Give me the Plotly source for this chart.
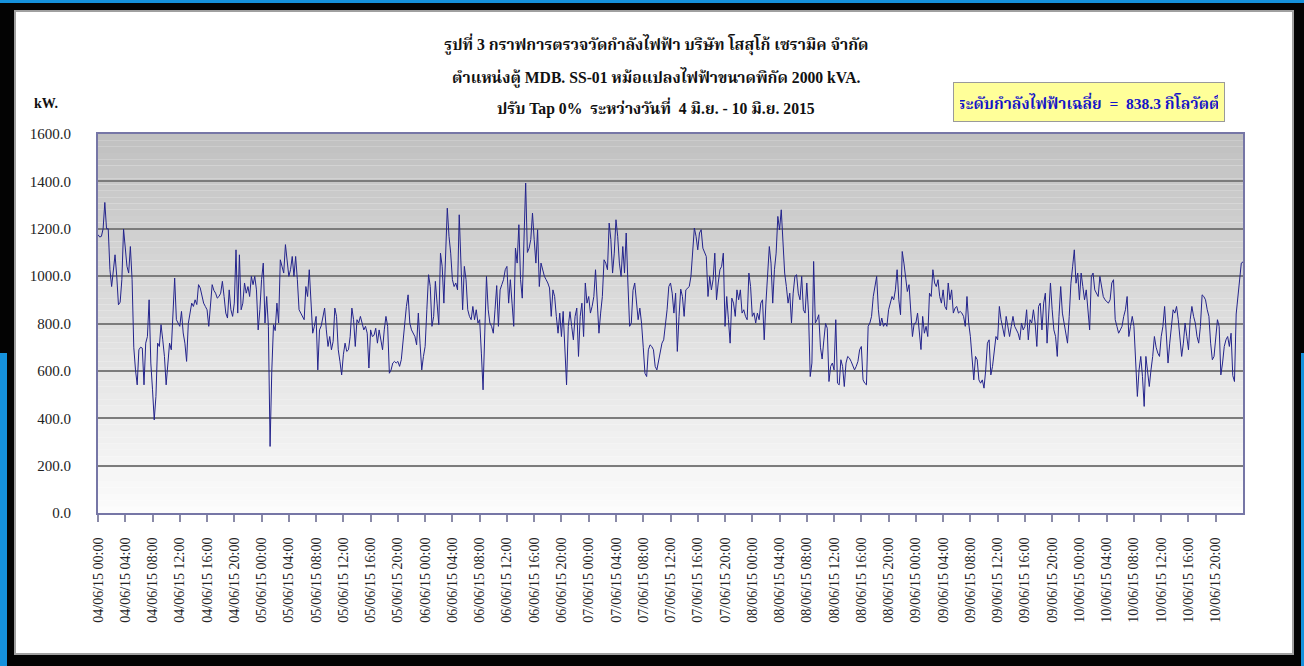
import pandas as pd
import plotly.graph_objects as go

# ---------------- data (15-minute steps) ----------------
start_time = "2015-06-04 00:00"
step = "15min"

# 04/06 00:00 -> 06/06 07:45
power_kw_part1 = [
    1175, 1165, 1168, 1200, 1311, 1200, 1200, 1027, 956, 1027,
    1090, 1000, 879, 890, 985, 1199, 1100, 1041, 1013, 1125,
    985, 700, 604, 541, 689, 700, 696, 541, 717, 745,
    900, 633, 520, 393, 492, 717, 703, 795, 731, 661,
    541, 633, 717, 689, 830, 992, 816, 800, 788, 851,
    760, 717, 640, 800, 850, 886, 872, 900, 880, 964,
    950, 921, 886, 872, 858, 788, 872, 964, 940, 928,
    907, 914, 928, 978, 914, 844, 823, 942, 858, 830,
    886, 1111, 844, 1090, 858, 886, 971, 928, 956, 914,
    999, 964, 999, 942, 773, 858, 985, 1055, 802, 914,
    788, 281, 600, 795, 770, 886, 802, 1069, 1041, 1013,
    1133, 1055, 999, 1027, 1083, 999, 1083, 985, 858, 844,
    830, 816, 956, 914, 1027, 858, 759, 788, 830, 604,
    773, 790, 830, 865, 773, 703, 745, 689, 724, 865,
    830, 689, 640, 583, 668, 717, 682, 689, 745, 865,
    816, 703, 816, 802, 830, 802, 773, 788, 759, 612,
    773, 745, 750, 780, 717, 773, 731, 689, 773, 830,
    788, 590, 604, 633, 640, 633, 640, 619, 647, 731,
    816, 872, 921, 802, 773, 759, 745, 710, 844, 717,
    604, 661, 703, 858, 1006, 956, 788, 830, 978, 886,
    795, 1097, 1041, 886, 1125, 1287, 1168, 1097, 985, 956,
    971, 942, 1259, 1027, 858, 1041, 985, 858, 830, 816,
    872, 816, 858, 802,
]
# 06/06 08:00 -> 08/06 15:45
power_kw_part2 = [
    816, 675, 520, 760, 999, 858, 802, 788, 759, 858,
    960, 788, 942, 964, 985, 1027, 1041, 886, 985, 886,
    788, 1118, 1055, 1217, 985, 907, 1168, 1393, 1100, 1118,
    1154, 1266, 1154, 1055, 1196, 956, 1055, 1027, 999, 985,
    971, 950, 830, 942, 914, 830, 759, 844, 745, 851,
    661, 541, 788, 850, 788, 731, 830, 865, 661, 830,
    886, 745, 971, 886, 914, 844, 872, 914, 1027, 858,
    759, 844, 914, 1069, 1055, 1027, 1224, 1154, 1013, 1097,
    1238, 1168, 1055, 999, 1125, 1013, 1182, 971, 788, 802,
    940, 971, 886, 816, 865, 802, 700, 590, 576, 689,
    710, 703, 689, 619, 604, 647, 689, 717, 731, 788,
    858, 956, 971, 928, 844, 928, 682, 830, 945, 914,
    830, 942, 950, 956, 999, 1097, 1203, 1168, 1111, 1182,
    1196, 1118, 1097, 1083, 914, 999, 942, 985, 1097, 900,
    971, 1027, 1041, 1097, 788, 914, 816, 717, 907, 886,
    830, 942, 900, 942, 844, 858, 830, 816, 1013, 956,
    830, 845, 802, 844, 816, 886, 900, 731, 886, 1027,
    1125, 1055, 886, 1027, 1097, 1252, 1196, 1280, 1139, 1013,
    956, 886, 928, 802, 928, 999, 1006, 928, 900, 999,
    858, 844, 971, 844, 576, 633, 1062, 802, 816, 837,
    700, 650, 730, 800, 780, 555, 619, 633, 604, 816,
    548, 541, 647, 619, 534, 633, 661, 654, 640, 619,
    604, 619, 640, 689,
]
# 08/06 16:00 -> 11/06 00:00
power_kw_part3 = [
    703, 562, 548, 541, 788, 802, 830, 914, 956, 999,
    858, 790, 823, 788, 802, 788, 858, 890, 914, 900,
    942, 1027, 900, 837, 1104, 1055, 985, 935, 964, 830,
    745, 800, 802, 844, 780, 690, 830, 759, 788, 745,
    928, 914, 1027, 971, 956, 985, 914, 886, 942, 872,
    858, 971, 900, 942, 844, 865, 872, 844, 851, 844,
    830, 788, 914, 802, 745, 661, 562, 661, 647, 562,
    548, 562, 527, 604, 717, 731, 583, 619, 675, 745,
    731, 872, 816, 773, 745, 830, 788, 745, 788, 830,
    788, 773, 759, 731, 802, 773, 788, 858, 731, 816,
    802, 858, 802, 703, 872, 886, 773, 886, 928, 717,
    830, 971, 858, 773, 745, 661, 830, 956, 844, 802,
    773, 717, 830, 970, 1040, 1111, 970, 1013, 900, 1013,
    956, 900, 942, 858, 773, 999, 1013, 942, 928, 914,
    999, 956, 914, 900, 893, 886, 900, 971, 985, 816,
    788, 759, 773, 788, 830, 858, 914, 745, 788, 830,
    788, 661, 492, 604, 661, 576, 450, 661, 590, 534,
    604, 661, 745, 700, 675, 661, 745, 788, 872, 773,
    633, 717, 802, 858, 844, 872, 816, 745, 661, 717,
    802, 745, 689, 816, 872, 830, 802, 745, 717, 788,
    921, 914, 900, 858, 830, 717, 647, 661, 759, 816,
    788, 583, 633, 703, 731, 745, 703, 759, 580, 555,
    840, 914, 985, 1055, 1060,
]
power_kw = power_kw_part1 + power_kw_part2 + power_kw_part3
times = pd.date_range(start_time, periods=len(power_kw), freq=step)

tick_times = pd.date_range(start_time, periods=42, freq="4h")
tick_labels = [t.strftime("%d/%m/%y %H:%M") for t in tick_times]
y_ticks = [0, 200, 400, 600, 800, 1000, 1200, 1400, 1600]
y_tick_labels = [f"{v:.1f}" for v in y_ticks]

title_lines = [
    "รูปที่ 3 กราฟการตรวจวัดกำลังไฟฟ้า บริษัท โสสุโก้ เซรามิค จำกัด",
    "ตำแหน่งตู้ MDB. SS-01 หม้อแปลงไฟฟ้าขนาดพิกัด 2000 kVA.",
    "ปรับ Tap 0%  ระหว่างวันที่  4 มิ.ย. - 10 มิ.ย. 2015",
]
avg_text = "ระดับกำลังไฟฟ้าเฉลี่ย  =  838.3 กิโลวัตต์"
unit_text = "kW."

# ---------------- layout geometry ----------------
W, H = 1304, 666
L, R, T, B = 98, 1243, 134, 513


def px(x):
    return (x - L) / (R - L)


def py(y):
    return (B - y) / (B - T)


SERIF = "Liberation Serif, Noto Serif Thai, Noto Sans Thai, Tlwg Typo, Loma, Garuda, serif"

fig = go.Figure()
fig.add_trace(go.Scatter(
    x=times, y=power_kw, mode="lines",
    line=dict(color="#24248c", width=1),
    hoverinfo="x+y", showlegend=False,
))

shapes = []
# outer frame
shapes.append(dict(type="rect", xref="paper", yref="paper", layer="below",
                   x0=px(0), x1=px(W), y0=py(0), y1=py(3),
                   fillcolor="#1591dc", line=dict(width=0)))
shapes.append(dict(type="rect", xref="paper", yref="paper", layer="below",
                   x0=px(0), x1=px(7), y0=py(353), y1=py(H),
                   fillcolor="#1591dc", line=dict(width=0)))
shapes.append(dict(type="rect", xref="paper", yref="paper", layer="below",
                   x0=px(1301), x1=px(W), y0=py(353), y1=py(H),
                   fillcolor="#1591dc", line=dict(width=0)))
shapes.append(dict(type="rect", xref="paper", yref="paper", layer="below",
                   x0=px(15), x1=px(1293), y0=py(11), y1=py(654),
                   fillcolor="white", line=dict(color="#a0a0a0", width=2)))
# plot-area vertical gradient
N = 60
top_c, bot_c = 192, 252
for k in range(N):
    f = (k + 0.5) / N
    c = round(bot_c + (top_c - bot_c) * f)
    shapes.append(dict(type="rect", xref="paper", yref="paper", layer="below",
                       x0=0, x1=1, y0=k / N, y1=(k + 1) / N,
                       fillcolor=f"rgb({c},{c},{c})", line=dict(width=0)))

annotations = []
title_y = [45, 77, 108]
for txt, yy in zip(title_lines, title_y):
    annotations.append(dict(text=f"<b>{txt}</b>", xref="paper", yref="paper",
                            x=px(656), y=py(yy), xanchor="center", yanchor="middle",
                            showarrow=False,
                            font=dict(family=SERIF, size=15.7, color="#111111")))
annotations.append(dict(text=f"<b>{unit_text}</b>", xref="paper", yref="paper",
                        x=px(32), y=py(103), xanchor="left", yanchor="middle",
                        showarrow=False,
                        font=dict(family=SERIF, size=14, color="#111111")))
annotations.append(dict(text=f"<b>{avg_text}</b>", xref="paper", yref="paper",
                        x=px(1089), y=py(102), xanchor="center", yanchor="middle",
                        showarrow=False, bgcolor="#ffff99", bordercolor="#9a9a9a",
                        borderwidth=1, borderpad=6, width=258, height=26,
                        font=dict(family=SERIF, size=15.5, color="#1414c8")))

fig.update_layout(
    width=W, height=H,
    margin=dict(l=L, r=W - R, t=T, b=H - B, pad=0),
    paper_bgcolor="#030303",
    plot_bgcolor="rgba(0,0,0,0)",
    shapes=shapes,
    annotations=annotations,
    showlegend=False,
)
fig.update_xaxes(
    type="date",
    range=[times[0], times[-1]],
    tickmode="array", tickvals=tick_times, ticktext=tick_labels,
    tickangle=-90, ticks="outside", ticklen=7, tickwidth=2, tickcolor="#8a8aa8",
    ticklabelstandoff=10,
    showgrid=False, zeroline=False,
    showline=True, linecolor="#7676a6", linewidth=2, mirror=True,
    tickfont=dict(family=SERIF, size=14, color="#222222"),
)
fig.update_yaxes(
    range=[0, 1600], tickmode="array", tickvals=y_ticks, ticktext=y_tick_labels,
    ticks="", ticklabelstandoff=22,
    showgrid=True, gridcolor="#7c7c7c", gridwidth=2, zeroline=False,
    showline=True, linecolor="#7676a6", linewidth=2, mirror=True,
    tickfont=dict(family=SERIF, size=15, color="#222222"),
)

fig.write_html("out.html", config={"displayModeBar": False},
               post_script="document.body.style.margin='0px';")
